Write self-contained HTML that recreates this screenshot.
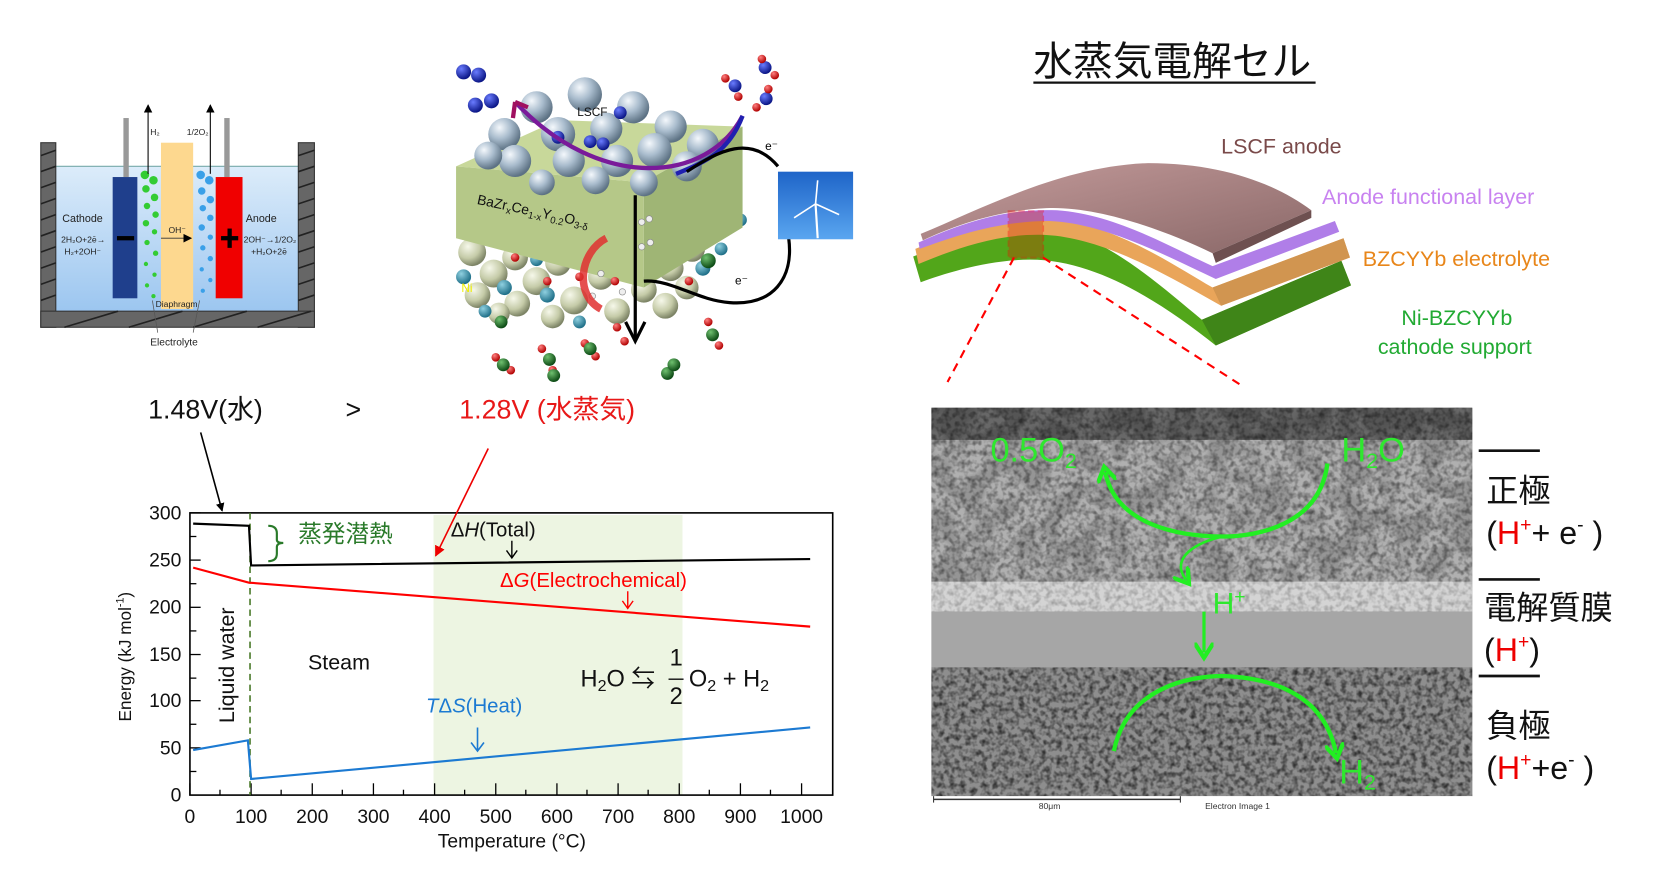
<!DOCTYPE html>
<html><head><meta charset="utf-8"><style>
html,body{margin:0;padding:0;background:#fff;}
svg{display:block;}
text{font-family:"Liberation Sans","Noto Sans CJK JP",sans-serif;}
</style></head><body>
<svg width="1674" height="882" viewBox="0 0 1560 822" preserveAspectRatio="none" xmlns="http://www.w3.org/2000/svg">
<defs>
<radialGradient id="gs" cx="35%" cy="30%" r="70%"><stop offset="0" stop-color="#f4f8fc"/><stop offset="0.5" stop-color="#a9bccd"/><stop offset="1" stop-color="#5d7284"/></radialGradient>
<radialGradient id="bs" cx="35%" cy="30%" r="70%"><stop offset="0" stop-color="#f6f8ea"/><stop offset="0.6" stop-color="#c5cba8"/><stop offset="1" stop-color="#7d8466"/></radialGradient>
<radialGradient id="ts" cx="35%" cy="30%" r="70%"><stop offset="0" stop-color="#8fd0e0"/><stop offset="1" stop-color="#1f6f88"/></radialGradient>
<radialGradient id="nb" cx="35%" cy="30%" r="70%"><stop offset="0" stop-color="#6a7cff"/><stop offset="1" stop-color="#0a1585"/></radialGradient>
<radialGradient id="rd" cx="35%" cy="30%" r="70%"><stop offset="0" stop-color="#ff8080"/><stop offset="1" stop-color="#b00000"/></radialGradient>
<radialGradient id="gr" cx="35%" cy="30%" r="70%"><stop offset="0" stop-color="#6fc06f"/><stop offset="1" stop-color="#0c4a14"/></radialGradient>
<linearGradient id="water" x1="0" y1="0" x2="0" y2="1"><stop offset="0" stop-color="#dcecfa"/><stop offset="1" stop-color="#9cc6f0"/></linearGradient>
<linearGradient id="sky" x1="0" y1="0" x2="0" y2="1"><stop offset="0" stop-color="#1e64c8"/><stop offset="1" stop-color="#5aa6f0"/></linearGradient>
<linearGradient id="brown" x1="0" y1="0" x2="1" y2="1"><stop offset="0" stop-color="#c59c9c"/><stop offset="1" stop-color="#8a6868"/></linearGradient>
<filter id="noise" x="0" y="0" width="100%" height="100%">
<feTurbulence type="fractalNoise" baseFrequency="0.2" numOctaves="2" seed="3"/>
<feColorMatrix type="matrix" values="0 0 0 0 0  0 0 0 0 0  0 0 0 0 0  0 0 0 -2.2 1.35"/>
<feComposite in2="SourceGraphic" operator="in"/>
</filter>
<filter id="blob" x="0" y="0" width="100%" height="100%">
<feTurbulence type="fractalNoise" baseFrequency="0.04" numOctaves="2" seed="7"/>
<feColorMatrix type="matrix" values="0 0 0 0 0.2  0 0 0 0 0.2  0 0 0 0 0.2  0 0 0 -6 3.4"/>
<feComposite in2="SourceGraphic" operator="in"/>
</filter>
<marker id="ab" markerWidth="8" markerHeight="8" refX="7" refY="4" orient="auto" markerUnits="userSpaceOnUse"><path d="M0,0 L8,4 L0,8 Z" fill="#000"/></marker>
<marker id="ar" markerWidth="10" markerHeight="10" refX="9" refY="5" orient="auto" markerUnits="userSpaceOnUse"><path d="M0,0 L10,5 L0,10 Z" fill="#e00"/></marker>
<marker id="ag" markerWidth="18" markerHeight="18" refX="9" refY="9" orient="auto" markerUnits="userSpaceOnUse"><path d="M0,0 L14,9 L0,18" fill="none" stroke="#22ee22" stroke-width="4"/></marker>
</defs>

<!-- ============ Left: alkaline cell ============ -->
<rect x="52" y="155" width="226" height="135" fill="url(#water)"/>
<line x1="52" y1="155" x2="278" y2="155" stroke="#7aa" stroke-width="1"/>
<g fill="#666" stroke="#333" stroke-width="1">
<rect x="38" y="133" width="14" height="172"/>
<rect x="278" y="133" width="15" height="172"/>
<rect x="38" y="290" width="255" height="15"/>
</g>
<g stroke="#222" stroke-width="1.5">
<line x1="38" y1="145" x2="52" y2="140"/><line x1="38" y1="160" x2="52" y2="155"/><line x1="38" y1="175" x2="52" y2="170"/><line x1="38" y1="190" x2="52" y2="185"/><line x1="38" y1="205" x2="52" y2="200"/><line x1="38" y1="220" x2="52" y2="215"/><line x1="38" y1="235" x2="52" y2="230"/><line x1="38" y1="250" x2="52" y2="245"/><line x1="38" y1="265" x2="52" y2="260"/><line x1="38" y1="280" x2="52" y2="275"/>
<line x1="278" y1="145" x2="293" y2="140"/><line x1="278" y1="160" x2="293" y2="155"/><line x1="278" y1="175" x2="293" y2="170"/><line x1="278" y1="190" x2="293" y2="185"/><line x1="278" y1="205" x2="293" y2="200"/><line x1="278" y1="220" x2="293" y2="215"/><line x1="278" y1="235" x2="293" y2="230"/><line x1="278" y1="250" x2="293" y2="245"/><line x1="278" y1="265" x2="293" y2="260"/><line x1="278" y1="280" x2="293" y2="275"/>
<line x1="60" y1="305" x2="110" y2="290"/><line x1="120" y1="305" x2="170" y2="290"/><line x1="180" y1="305" x2="230" y2="290"/><line x1="240" y1="305" x2="290" y2="290"/>
</g>
<rect x="115" y="110" width="5" height="55" fill="#999"/>
<rect x="209" y="110" width="5" height="55" fill="#999"/>
<rect x="105" y="165" width="23" height="113" fill="#1f3f8c"/>
<rect x="150" y="133" width="30" height="155" fill="#fdd88f"/>
<rect x="201" y="165" width="25" height="113" fill="#f00000"/>
<rect x="109" y="220" width="16" height="4" fill="#000"/>
<rect x="206" y="220" width="16" height="4" fill="#000"/><rect x="212" y="213" width="4" height="18" fill="#000"/>
<g fill="#3c3">
<circle cx="135" cy="163" r="4"/><circle cx="143" cy="168" r="4"/><circle cx="136" cy="176" r="3.5"/><circle cx="144" cy="184" r="3.5"/><circle cx="137" cy="192" r="3"/><circle cx="145" cy="200" r="3"/><circle cx="136" cy="208" r="3"/><circle cx="144" cy="216" r="2.5"/><circle cx="137" cy="226" r="2.5"/><circle cx="145" cy="236" r="2.5"/><circle cx="136" cy="246" r="2"/><circle cx="144" cy="256" r="2"/><circle cx="137" cy="266" r="2"/><circle cx="143" cy="276" r="2"/>
</g>
<g fill="#3aa0e8">
<circle cx="187" cy="163" r="4"/><circle cx="195" cy="168" r="4"/><circle cx="188" cy="178" r="3.5"/><circle cx="196" cy="186" r="3.5"/><circle cx="189" cy="194" r="3"/><circle cx="196" cy="203" r="3"/><circle cx="188" cy="212" r="3"/><circle cx="196" cy="221" r="2.5"/><circle cx="189" cy="231" r="2.5"/><circle cx="196" cy="241" r="2.5"/><circle cx="188" cy="251" r="2"/><circle cx="196" cy="261" r="2"/><circle cx="189" cy="271" r="2"/>
</g>
<line x1="138" y1="162" x2="138" y2="98" stroke="#000" marker-end="url(#ab)"/>
<line x1="196" y1="162" x2="196" y2="98" stroke="#000" marker-end="url(#ab)"/>
<g font-size="8" fill="#222">
<text x="140" y="126" font-family="Liberation Serif,serif">H₂</text>
<text x="174" y="126" font-family="Liberation Serif,serif">1/2O₂</text>
<text x="58" y="207" font-size="10" font-family="Liberation Serif,serif">Cathode</text>
<text x="57" y="226" font-family="Liberation Serif,serif">2H₂O+2ē→</text>
<text x="60" y="237" font-family="Liberation Serif,serif">H₂+2OH⁻</text>
<text x="229" y="207" font-size="10" font-family="Liberation Serif,serif">Anode</text>
<text x="227" y="226" font-family="Liberation Serif,serif">2OH⁻→1/2O₂</text>
<text x="234" y="237" font-family="Liberation Serif,serif">+H₂O+2ē</text>
<text x="157" y="217" font-family="Liberation Serif,serif">OH⁻</text>
<text x="145" y="286" font-family="Liberation Serif,serif">Diaphragm</text>
<text x="140" y="322" font-size="9.5" font-family="Liberation Serif,serif">Electrolyte</text>
</g>
<line x1="150" y1="222" x2="178" y2="222" stroke="#333" stroke-width="0.8" marker-end="url(#ab)"/>
<path d="M147,310 L142,280 M180,310 L186,280" stroke="#555" stroke-width="0.7" fill="none"/>

<!-- ============ Middle: SOFC ============ -->
<g>
<g>
<circle cx="440" cy="235" r="13" fill="url(#bs)"/><circle cx="460" cy="255" r="13" fill="url(#bs)"/><circle cx="445" cy="275" r="12" fill="url(#bs)"/><circle cx="480" cy="240" r="12" fill="url(#bs)"/><circle cx="500" cy="262" r="13" fill="url(#bs)"/><circle cx="482" cy="283" r="12" fill="url(#bs)"/><circle cx="520" cy="245" r="12" fill="url(#bs)"/><circle cx="535" cy="280" r="13" fill="url(#bs)"/><circle cx="560" cy="258" r="12" fill="url(#bs)"/><circle cx="575" cy="290" r="12" fill="url(#bs)"/><circle cx="600" cy="270" r="12" fill="url(#bs)"/><circle cx="625" cy="250" r="12" fill="url(#bs)"/><circle cx="645" cy="232" r="12" fill="url(#bs)"/><circle cx="665" cy="210" r="12" fill="url(#bs)"/><circle cx="680" cy="190" r="11" fill="url(#bs)"/><circle cx="620" cy="285" r="12" fill="url(#bs)"/><circle cx="640" cy="268" r="11" fill="url(#bs)"/><circle cx="515" cy="295" r="11" fill="url(#bs)"/><circle cx="465" cy="292" r="10" fill="url(#bs)"/>
<circle cx="432" cy="258" r="7" fill="url(#ts)"/><circle cx="470" cy="268" r="7" fill="url(#ts)"/><circle cx="452" cy="290" r="6" fill="url(#ts)"/><circle cx="510" cy="275" r="7" fill="url(#ts)"/><circle cx="540" cy="300" r="6" fill="url(#ts)"/><circle cx="590" cy="250" r="7" fill="url(#ts)"/><circle cx="655" cy="250" r="7" fill="url(#ts)"/><circle cx="690" cy="205" r="6" fill="url(#ts)"/><circle cx="672" cy="232" r="6" fill="url(#ts)"/><circle cx="500" cy="242" r="6" fill="url(#ts)"/>
</g>
<polygon points="425,155 520,112 692,118 600,170" fill="#c8d89a"/>
<polygon points="425,155 600,170 600,268 425,222" fill="#b5c888"/>
<polygon points="600,170 692,118 692,212 600,268" fill="#9fb575"/>
<g fill="url(#gs)">
<circle cx="470" cy="125" r="15"/><circle cx="500" cy="100" r="15"/><circle cx="545" cy="88" r="16"/><circle cx="590" cy="100" r="15"/><circle cx="625" cy="118" r="15"/><circle cx="655" cy="135" r="15"/><circle cx="520" cy="125" r="16"/><circle cx="565" cy="120" r="15"/><circle cx="610" cy="140" r="16"/><circle cx="480" cy="150" r="15"/><circle cx="530" cy="150" r="15"/><circle cx="575" cy="150" r="15"/><circle cx="455" cy="145" r="13"/><circle cx="640" cy="155" r="14"/><circle cx="600" cy="170" r="13"/><circle cx="555" cy="168" r="13"/><circle cx="505" cy="170" r="12"/>
</g>
<g fill="url(#nb)">
<circle cx="432" cy="67" r="7"/><circle cx="446" cy="70" r="7"/><circle cx="443" cy="98" r="7"/><circle cx="458" cy="94" r="7"/><circle cx="520" cy="128" r="6"/><circle cx="550" cy="132" r="6"/><circle cx="562" cy="134" r="6"/><circle cx="578" cy="105" r="6"/><circle cx="685" cy="80" r="6"/><circle cx="713" cy="63" r="6"/><circle cx="714" cy="92" r="6"/>
</g>
<g fill="url(#rd)">
<circle cx="676" cy="73" r="4"/><circle cx="688" cy="90" r="4"/><circle cx="710" cy="55" r="4"/><circle cx="722" cy="70" r="4"/><circle cx="705" cy="100" r="4"/><circle cx="716" cy="83" r="4"/>
<circle cx="462" cy="333" r="4"/><circle cx="476" cy="345" r="4"/><circle cx="505" cy="325" r="4"/><circle cx="515" cy="345" r="4"/><circle cx="545" cy="320" r="4"/><circle cx="555" cy="332" r="4"/><circle cx="575" cy="305" r="4"/><circle cx="582" cy="318" r="4"/><circle cx="660" cy="300" r="4"/><circle cx="670" cy="322" r="4"/><circle cx="510" cy="262" r="4"/><circle cx="540" cy="258" r="4"/><circle cx="573" cy="262" r="4"/><circle cx="642" cy="262" r="4"/><circle cx="480" cy="240" r="4"/>
</g>
<g fill="url(#gr)">
<circle cx="469" cy="340" r="6"/><circle cx="512" cy="335" r="6"/><circle cx="550" cy="325" r="6"/><circle cx="664" cy="312" r="6"/><circle cx="622" cy="348" r="6"/><circle cx="628" cy="340" r="6"/><circle cx="660" cy="243" r="7"/><circle cx="467" cy="300" r="6"/><circle cx="516" cy="350" r="6"/>
</g>
<g fill="#eee" stroke="#888" stroke-width="0.6">
<circle cx="598" cy="207" r="3"/><circle cx="605" cy="204" r="3"/><circle cx="598" cy="230" r="3"/><circle cx="606" cy="226" r="3"/><circle cx="560" cy="255" r="3"/><circle cx="580" cy="272" r="3"/><circle cx="552" cy="276" r="3"/>
</g>
<text x="538" y="108" font-size="11" fill="#111">LSCF</text>
<text x="444" y="190" font-size="13" fill="#111" transform="rotate(12 444 190)">BaZr<tspan font-size="9" dy="3">x</tspan><tspan dy="-3">Ce</tspan><tspan font-size="9" dy="3">1-x</tspan><tspan dy="-3">Y</tspan><tspan font-size="9" dy="3">0.2</tspan><tspan dy="-3">O</tspan><tspan font-size="9" dy="3">3-δ</tspan></text>
<text x="430" y="272" font-size="11" fill="#ee0">Ni</text>
<path d="M692,108 C660,170 560,180 480,95" fill="none" stroke="#7a1a9a" stroke-width="4"/>
<path d="M692,108 C680,140 660,150 630,162" fill="none" stroke="#2020b0" stroke-width="4"/>
<path d="M480,95 L478,110 M480,95 L492,100" stroke="#a01060" stroke-width="4"/>
<path d="M565,222 C540,235 535,275 560,288" fill="none" stroke="#e03030" stroke-width="7" opacity="0.85"/>
<line x1="592" y1="182" x2="592" y2="315" stroke="#000" stroke-width="3"/>
<path d="M583,300 L592,318 L601,300" fill="none" stroke="#000" stroke-width="3"/>
<path d="M640,160 C670,140 700,125 725,155" fill="none" stroke="#000" stroke-width="3"/>
<path d="M735,222 C740,260 720,285 680,282 C650,280 625,260 600,262" fill="none" stroke="#000" stroke-width="3"/>
<text x="713" y="140" font-size="11">e⁻</text>
<text x="685" y="265" font-size="11">e⁻</text>
<rect x="725" y="160" width="70" height="63" fill="url(#sky)"/>
<line x1="760" y1="190" x2="762" y2="222" stroke="#fff" stroke-width="2"/>
<path d="M760,190 L762,168 M760,190 L740,203 M760,190 L782,200" stroke="#fff" stroke-width="1.5"/>
</g>

<!-- ============ Chart ============ -->
<rect x="404" y="480" width="232" height="261" fill="#edf5e2"/>
<rect x="177" y="478" width="599" height="263" fill="none" stroke="#000" stroke-width="1.5"/>
<g stroke="#000" stroke-width="1.2">
<line x1="177" y1="741" x2="177" y2="730"/><line x1="205" y1="741" x2="205" y2="736"/><line x1="234" y1="741" x2="234" y2="730"/><line x1="262" y1="741" x2="262" y2="736"/><line x1="291" y1="741" x2="291" y2="730"/><line x1="319" y1="741" x2="319" y2="736"/><line x1="348" y1="741" x2="348" y2="730"/><line x1="376" y1="741" x2="376" y2="736"/><line x1="405" y1="741" x2="405" y2="730"/><line x1="433" y1="741" x2="433" y2="736"/><line x1="462" y1="741" x2="462" y2="730"/><line x1="490" y1="741" x2="490" y2="736"/><line x1="519" y1="741" x2="519" y2="730"/><line x1="547" y1="741" x2="547" y2="736"/><line x1="576" y1="741" x2="576" y2="730"/><line x1="604" y1="741" x2="604" y2="736"/><line x1="633" y1="741" x2="633" y2="730"/><line x1="661" y1="741" x2="661" y2="736"/><line x1="690" y1="741" x2="690" y2="730"/><line x1="718" y1="741" x2="718" y2="736"/><line x1="747" y1="741" x2="747" y2="730"/>
<line x1="177" y1="478" x2="187" y2="478"/><line x1="177" y1="500" x2="183" y2="500"/><line x1="177" y1="522" x2="187" y2="522"/><line x1="177" y1="544" x2="183" y2="544"/><line x1="177" y1="566" x2="187" y2="566"/><line x1="177" y1="588" x2="183" y2="588"/><line x1="177" y1="610" x2="187" y2="610"/><line x1="177" y1="632" x2="183" y2="632"/><line x1="177" y1="653" x2="187" y2="653"/><line x1="177" y1="675" x2="183" y2="675"/><line x1="177" y1="697" x2="187" y2="697"/><line x1="177" y1="719" x2="183" y2="719"/>
</g>
<g font-size="18" fill="#111" text-anchor="middle">
<text x="177" y="767">0</text><text x="234" y="767">100</text><text x="291" y="767">200</text><text x="348" y="767">300</text><text x="405" y="767">400</text><text x="462" y="767">500</text><text x="519" y="767">600</text><text x="576" y="767">700</text><text x="633" y="767">800</text><text x="690" y="767">900</text><text x="747" y="767">1000</text>
</g>
<g font-size="18" fill="#111" text-anchor="end">
<text x="169" y="484">300</text><text x="169" y="528">250</text><text x="169" y="572">200</text><text x="169" y="616">150</text><text x="169" y="659">100</text><text x="169" y="703">50</text><text x="169" y="747">0</text>
</g>
<text x="477" y="790" font-size="18" text-anchor="middle" fill="#111">Temperature (°C)</text>
<text transform="translate(122 612) rotate(-90)" font-size="16" text-anchor="middle" fill="#111">Energy (kJ mol<tspan font-size="10" dy="-7">-1</tspan><tspan dy="7">)</tspan></text>
<text transform="translate(218 620) rotate(-90)" font-size="20" text-anchor="middle" fill="#111">Liquid water</text>
<line x1="233" y1="478" x2="233" y2="741" stroke="#4a7a2a" stroke-width="1.5" stroke-dasharray="6,4"/>
<polyline points="180,488 232,490 234,527 755,521" fill="none" stroke="#000" stroke-width="2"/>
<polyline points="180,529 232,543 755,584" fill="none" stroke="#f00" stroke-width="2"/>
<polyline points="180,699 231,690 234,726 755,678" fill="none" stroke="#1c7ad2" stroke-width="2"/>
<path d="M250,490 Q258,490 258,497 L258,503 Q258,506 264,506 Q258,506 258,510 L258,516 Q258,523 250,523" fill="none" stroke="#2a7a2a" stroke-width="2"/>
<text x="278" y="505" font-size="22" fill="#2a7a2a">蒸発潜熱</text>
<text x="420" y="500" font-size="19" fill="#111">Δ<tspan font-style="italic">H</tspan>(Total)</text>
<path d="M477,504 L477,520 M472,513 L477,520 L482,513" stroke="#000" stroke-width="1.3" fill="none"/>
<text x="466" y="547" font-size="19" fill="#f00">Δ<tspan font-style="italic">G</tspan>(Electrochemical)</text>
<path d="M585,551 L585,567 M580,560 L585,567 L590,560" stroke="#f00" stroke-width="1.3" fill="none"/>
<text x="397" y="664" font-size="19" fill="#1c7ad2"><tspan font-style="italic">T</tspan>Δ<tspan font-style="italic">S</tspan>(Heat)</text>
<path d="M445,678 L445,700 M439,692 L445,700 L451,692" stroke="#1c7ad2" stroke-width="1.5" fill="none"/>
<text x="287" y="624" font-size="20" fill="#111">Steam</text>
<g fill="#111">
<text x="541" y="640" font-size="22" font-family="Liberation Serif,serif">H<tspan font-size="15" dy="4">2</tspan><tspan dy="-4">O ⇆</tspan></text>
<text x="624" y="620" font-size="22" font-family="Liberation Serif,serif">1</text>
<line x1="623" y1="633" x2="637" y2="633" stroke="#111" stroke-width="1.3"/>
<text x="624" y="656" font-size="22" font-family="Liberation Serif,serif">2</text>
<text x="642" y="640" font-size="22" font-family="Liberation Serif,serif">O<tspan font-size="15" dy="4">2</tspan><tspan dy="-4"> + H</tspan><tspan font-size="15" dy="4">2</tspan></text>
</g>

<!-- ============ Voltages ============ -->
<text x="138" y="390" font-size="25" fill="#111">1.48V(水)</text>
<text x="322" y="390" font-size="25" fill="#111">&gt;</text>
<text x="428" y="390" font-size="25" fill="#e81818">1.28V (水蒸気)</text>
<line x1="187" y1="403" x2="207" y2="476" stroke="#000" stroke-width="1.5" marker-end="url(#ab)"/>
<line x1="455" y1="418" x2="406" y2="518" stroke="#e00" stroke-width="1.5" marker-end="url(#ar)"/>

<!-- ============ Right: title & layers ============ -->
<text x="963" y="70" font-size="37" fill="#111">水蒸気電解セル</text>
<line x1="963" y1="77" x2="1226" y2="77" stroke="#111" stroke-width="2"/>
<path d="M851,239 C900,220 940,207 980,212 C1030,220 1080,265 1120,298 L1250,243 L1259,266 L1133,322 C1080,280 1020,242 960,242 C920,242 880,255 858,263 Z" fill="#52a61a"/>
<path d="M1120,298 L1250,243 L1259,266 L1133,322 Z" fill="#3f8518"/>
<path d="M853,232 C900,212 940,200 980,204 C1040,210 1090,245 1130,268 L1252,222 L1258,240 L1138,285 C1090,258 1030,222 975,219 C930,217 890,232 856,246 Z" fill="#e9a55a"/>
<path d="M1130,268 L1252,222 L1258,240 L1138,285 Z" fill="#d19550"/>
<path d="M856,226 C900,206 940,194 985,196 C1040,200 1090,230 1130,248 L1244,206 L1248,216 L1133,260 C1090,240 1030,208 978,206 C930,206 890,220 857,232 Z" fill="#b07ee8"/>
<path d="M858,218 C920,192 990,155 1070,152 C1140,152 1190,172 1222,196 L1130,236 C1080,212 1020,192 975,194 C930,196 890,210 860,224 Z" fill="url(#brown)"/>
<path d="M1130,236 L1222,196 L1222,203 L1133,245 Z" fill="#6e5050"/>
<rect x="940" y="197" width="32" height="43" fill="#cc3300" opacity="0.35" stroke="#f00" stroke-width="2" stroke-dasharray="6,3"/>
<line x1="945" y1="240" x2="883" y2="356" stroke="#f00" stroke-width="2" stroke-dasharray="8,6"/>
<line x1="972" y1="240" x2="1155" y2="358" stroke="#f00" stroke-width="2" stroke-dasharray="8,6"/>
<text x="1138" y="143" font-size="20" fill="#7a4a4a">LSCF anode</text>
<text x="1232" y="190" font-size="20" fill="#c882f0">Anode functional layer</text>
<text x="1270" y="248" font-size="20" fill="#e8861a">BZCYYb electrolyte</text>
<text x="1306" y="303" font-size="20" fill="#22aa33">Ni-BZCYYb</text>
<text x="1284" y="330" font-size="20" fill="#22aa33">cathode support</text>

<!-- ============ SEM ============ -->
<rect x="868" y="380" width="504" height="362" fill="#888"/>
<rect x="868" y="380" width="504" height="30" fill="#555"/>
<rect x="868" y="410" width="504" height="132" fill="#b0b0b0"/>
<rect x="868" y="542" width="504" height="28" fill="#d4d4d4"/>
<rect x="868" y="570" width="504" height="52" fill="#a6a6a6"/>
<rect x="868" y="622" width="504" height="120" fill="#8e8e8e"/>
<rect x="868" y="380" width="504" height="162" fill="#000" filter="url(#blob)" opacity="0.5"/>
<rect x="868" y="380" width="504" height="162" fill="#000" filter="url(#noise)" opacity="0.45"/>
<rect x="868" y="542" width="504" height="28" fill="#000" filter="url(#noise)" opacity="0.25"/>
<rect x="868" y="622" width="504" height="120" fill="#000" filter="url(#noise)" opacity="0.65"/>
<rect x="868" y="742" width="504" height="16" fill="#fff"/>
<line x1="870" y1="745" x2="1100" y2="745" stroke="#333" stroke-width="1.5"/>
<line x1="870" y1="742" x2="870" y2="748" stroke="#333"/><line x1="1100" y1="742" x2="1100" y2="748" stroke="#333"/>
<text x="968" y="754" font-size="8" fill="#333">80μm</text>
<text x="1123" y="754" font-size="8" fill="#333">Electron Image 1</text>
<g fill="#2ee82e">
<text x="923" y="430" font-size="32">0.5O<tspan font-size="20" dy="6">2</tspan></text>
<text x="1250" y="430" font-size="32">H<tspan font-size="20" dy="6">2</tspan><tspan dy="-6">O</tspan></text>
<text x="1130" y="572" font-size="28">H<tspan font-size="18" dy="-10">+</tspan></text>
<text x="1248" y="730" font-size="32">H<tspan font-size="20" dy="6">2</tspan></text>
</g>
<path d="M1237,432 C1230,490 1170,500 1140,500 C1100,500 1040,490 1030,440" fill="none" stroke="#22ee22" stroke-width="4" marker-end="url(#ag)"/>
<path d="M1140,500 C1115,505 1090,520 1105,540" fill="none" stroke="#22ee22" stroke-width="2.5" marker-end="url(#ag)"/>
<line x1="1122" y1="570" x2="1122" y2="608" stroke="#22ee22" stroke-width="3" marker-end="url(#ag)"/>
<path d="M1038,700 C1050,640 1110,630 1140,630 C1190,632 1235,650 1245,702" fill="none" stroke="#22ee22" stroke-width="4" marker-end="url(#ag)"/>

<!-- ============ Right labels ============ -->
<g stroke="#111" stroke-width="2.5">
<line x1="1378" y1="420" x2="1435" y2="420"/><line x1="1378" y1="540" x2="1435" y2="540"/><line x1="1378" y1="630" x2="1435" y2="630"/>
</g>
<g font-size="30" fill="#111">
<text x="1385" y="468">正極</text>
<text x="1385" y="507">(<tspan fill="#e00">H<tspan font-size="18" dy="-12">+</tspan></tspan><tspan dy="12">+ e</tspan><tspan font-size="18" dy="-12">-</tspan><tspan dy="12"> )</tspan></text>
<text x="1383" y="577">電解質膜</text>
<text x="1383" y="616">(<tspan fill="#e00">H<tspan font-size="18" dy="-12">+</tspan></tspan><tspan dy="12">)</tspan></text>
<text x="1385" y="687">負極</text>
<text x="1385" y="726">(<tspan fill="#e00">H<tspan font-size="18" dy="-12">+</tspan></tspan><tspan dy="12">+e</tspan><tspan font-size="18" dy="-12">-</tspan><tspan dy="12"> )</tspan></text>
</g>
</svg>
</body></html>
